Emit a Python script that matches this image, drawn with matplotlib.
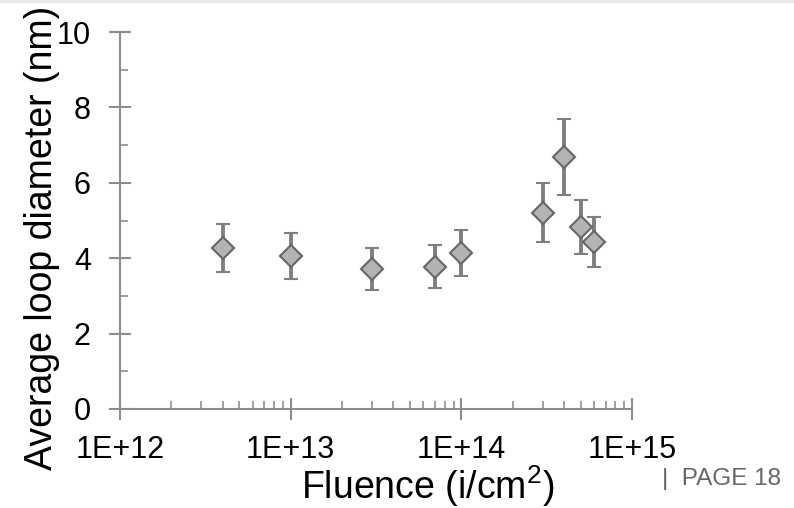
import math
import matplotlib
matplotlib.use("Agg")
import matplotlib.pyplot as plt
from matplotlib.ticker import LogLocator, MultipleLocator, FuncFormatter
from matplotlib.lines import Line2D

plt.rcParams['font.family'] = ['Liberation Sans', 'DejaVu Sans']
plt.rcParams['mathtext.fontset'] = 'custom'
plt.rcParams['mathtext.rm'] = 'Liberation Sans'

# fluence (i/cm2), mean loop diameter (nm), error (nm)
fluence = [4e12, 1e13, 3e13, 7e13, 1e14, 3e14, 4e14, 5e14, 6e14]
diameter = [4.28, 4.07, 3.72, 3.77, 4.14, 5.21, 6.68, 4.82, 4.42]
err = [0.64, 0.61, 0.56, 0.57, 0.62, 0.79, 1.01, 0.72, 0.66]

axis_grey = '#8c8c8c'

fig = plt.figure(figsize=(7.94, 5.08), dpi=100)
ax = fig.add_axes([120/794, 1 - 409/508, 512/794, 377/508])

ax.errorbar(fluence, diameter, yerr=err, fmt='D', color='#7f7f7f',
            ecolor='#7f7f7f', elinewidth=2.8, capsize=4.7, capthick=2.8,
            markersize=11, markerfacecolor='#b3b3b3',
            markeredgecolor='#666666', markeredgewidth=1.5, zorder=3)

ax.set_xscale('log')
ax.set_xlim(1e12, 1e15)
ax.set_ylim(0, 10)
ax.xaxis.set_major_locator(LogLocator(base=10, numticks=10))
ax.xaxis.set_minor_locator(LogLocator(base=10, subs=range(2, 10), numticks=20))
ax.xaxis.set_major_formatter(FuncFormatter(lambda v, p: '1E+%d' % round(math.log10(v))))
ax.yaxis.set_major_locator(MultipleLocator(2))
ax.yaxis.set_minor_locator(MultipleLocator(1))

for s in ['top', 'right']:
    ax.spines[s].set_visible(False)
for s in ['left', 'bottom']:
    ax.spines[s].set_color(axis_grey)
    ax.spines[s].set_linewidth(1.5)

ax.tick_params(which='major', direction='inout', length=16, width=1.5,
               color=axis_grey, labelsize=22, labelcolor='black')
ax.tick_params(axis='y', which='major', pad=13)
ax.tick_params(axis='x', which='major', pad=11)
ax.tick_params(which='minor', direction='in', length=6, width=1.2, color=axis_grey)

ax.set_xlabel('Fluence (i/cm$^{2}$)', fontsize=27)
ax.set_ylabel('Average loop diameter (nm)', fontsize=27)
ax.xaxis.set_label_coords(0.6, -0.145)
ax.yaxis.set_label_coords(-0.118, 0.455)

fig.text(662/794, 1 - 485/508, '|  PAGE 18', fontsize=17.5, color='#666666',
         va='baseline', ha='left')

fig.add_artist(Line2D([0, 1], [1 - 1/508, 1 - 1/508], color='#e8e8e8', lw=2))

fig.savefig('out.png', dpi=100)
